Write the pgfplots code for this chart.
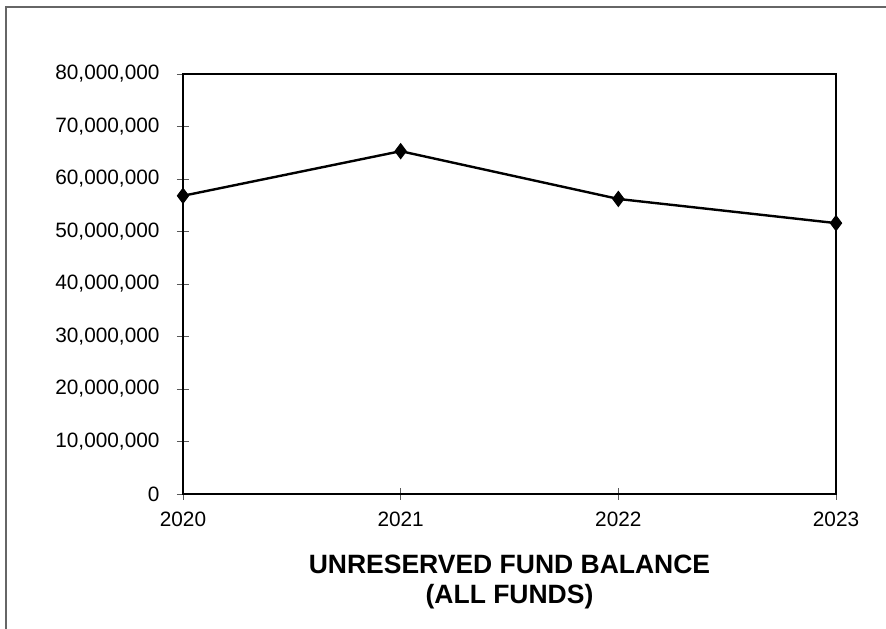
\documentclass[border=0pt]{standalone}
\usepackage{fontspec}
\setmainfont{Liberation Sans}
\usepackage{pgfplots}
\pgfplotsset{compat=1.18}

\begin{document}
\begin{tikzpicture}[x=1pt,y=1pt]
  % canvas and frame
  \path[use as bounding box] (0,0) rectangle (886,629);
  \draw[gray!80!black, line width=1.4pt] (6,0) -- (6,622) -- (886,622);

  \begin{axis}[
    at={(183pt,135pt)}, anchor=south west,
    scale only axis,
    width=653pt, height=420pt,
    xmin=0, xmax=3, ymin=0, ymax=80000000,
    xtick={0,1,2,3},
    xticklabels={2020,2021,2022,2023},
    ytick={0,10000000,...,80000000},
    xtick pos=bottom, ytick pos=left,
    scaled y ticks=false,
    /pgf/number format/.cd, fixed, 1000 sep={,}, assume math mode=true,
    /pgfplots/.cd,
    axis line style={line width=2.6pt},
    tick align=center,
    major tick length=12pt,
    tick style={line width=0.9pt, gray!70!black},
    ticklabel style={font=\fontsize{20.8}{24}\selectfont},
    yticklabel style={xshift=-14pt},
    xticklabel style={yshift=-8pt},
    clip=false,
  ]
    \addplot[black, line width=2.4pt, mark=diamond*, mark size=7.5pt,
             mark options={solid, fill=black, line width=1pt}]
      coordinates {(0,56800000) (1,65300000) (2,56200000) (3,51600000)};
  \end{axis}

  \node[align=center, font=\fontsize{26.5}{30}\selectfont\bfseries]
    at (509.5,47) {UNRESERVED FUND BALANCE\\(ALL FUNDS)};
\end{tikzpicture}
\end{document}
